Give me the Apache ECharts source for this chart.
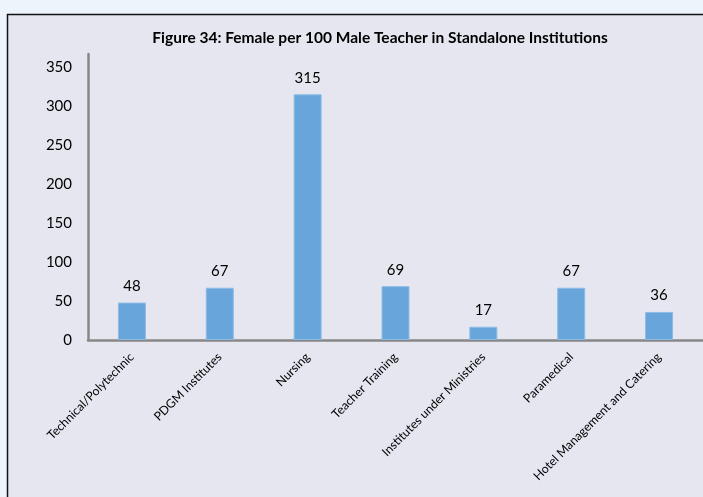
<!DOCTYPE html>
<html>
<head>
<meta charset="utf-8">
<script src="https://cdn.jsdelivr.net/npm/echarts@6/dist/echarts.min.js"></script>
<style>
  html, body { margin: 0; padding: 0; background: #eef4fb; }
  #chart { width: 703px; height: 497px; }
</style>
</head>
<body>
<div id="chart"></div>
<script>
// Female teachers per 100 male teachers, by type of standalone institution
const categories = [
  'Technical/Polytechnic',
  'PDGM Institutes',
  'Nursing',
  'Teacher Training',
  'Institutes under Ministries',
  'Paramedical',
  'Hotel Management and Catering'
];
const femalePer100Male = [48, 67, 315, 69, 17, 67, 36];
const yTicks = [0, 50, 100, 150, 200, 250, 300, 350];

const chart = echarts.init(document.getElementById('chart'), null, { renderer: 'canvas' });

const font = 'Lato, "Open Sans", sans-serif';

chart.setOption({
  backgroundColor: '#eef4fb',
  animation: false,
  graphic: [{
    type: 'rect',
    z: -10,
    silent: true,
    shape: { x: 7.5, y: 14.5, width: 720, height: 500 },
    style: { fill: '#e6e6f0', stroke: '#111', lineWidth: 1.5 }
  }],
  title: {
    text: 'Figure 34: Female per 100 Male Teacher in Standalone Institutions',
    left: 375,
    textAlign: 'center',
    top: 25,
    textStyle: { fontFamily: font, fontWeight: 'bold', fontSize: 15.5, color: '#000' }
  },
  grid: { left: 88, right: -1, top: 54, bottom: 157, containLabel: false },
  xAxis: {
    type: 'category',
    data: categories,
    axisLine: { lineStyle: { color: '#888', width: 2.5 } },
    axisTick: { show: false },
    axisLabel: {
      interval: 0,
      rotate: 45,
      margin: 15,
      fontFamily: font,
      fontSize: 12.2,
      color: '#000'
    }
  },
  yAxis: {
    type: 'value',
    min: 0,
    max: 366.7,
    interval: 50,
    axisLine: { show: true, lineStyle: { color: '#888', width: 2.5 } },
    axisTick: { show: false },
    splitLine: { show: false },
    axisLabel: {
      showMaxLabel: false,
      margin: 16,
      fontFamily: font,
      fontSize: 15,
      color: '#000',
      formatter: v => (yTicks.includes(v) ? String(v) : '')
    }
  },
  series: [{
    type: 'bar',
    data: femalePer100Male,
    barWidth: 28,
    itemStyle: { color: '#68a5da', borderColor: '#8dbbe6', borderWidth: 1 },
    label: {
      show: true,
      position: 'top',
      distance: 9,
      fontFamily: font,
      fontSize: 15,
      color: '#000'
    }
  }]
});
</script>
</body>
</html>
